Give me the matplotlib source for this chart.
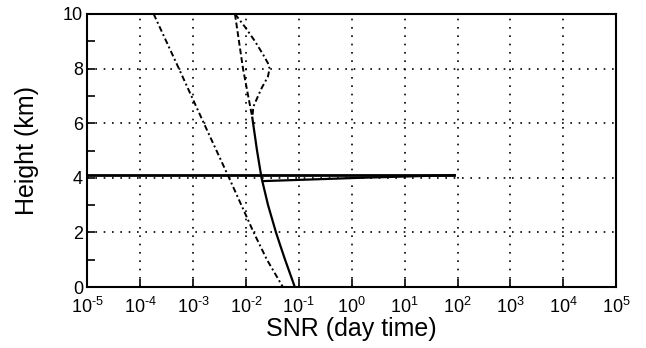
import matplotlib
matplotlib.use("Agg")
import matplotlib.pyplot as plt
from matplotlib.ticker import FixedLocator, FixedFormatter, NullLocator

# ---- data ----
# dash-dot profile (leftmost)
h_dashdot = [10, 8, 6, 4, 2, 1, 0]
snr_dashdot = [1.8e-4, 5.4e-4, 1.6e-3, 4.8e-3, 1.4e-2, 2.5e-2, 5.0e-2]

# solid profile (below ~6.2 km)
h_solid = [6.2, 5, 4, 3, 2, 1.5, 1, 0.5, 0]
snr_solid = [0.0132, 0.0162, 0.0197, 0.0262, 0.037, 0.045, 0.055, 0.068, 0.084]

# dashed upper continuation
h_dashed = [10, 8, 6.2]
snr_dashed = [0.0062, 0.0088, 0.0132]

# dash-dot bump around 8 km
h_bump = [10, 9.5, 9, 8.5, 8.2, 8, 7.7, 7.3, 7, 6.6, 6.2]
snr_bump = [0.0062, 0.0098, 0.0148, 0.0213, 0.026, 0.028, 0.026, 0.020,
            0.017, 0.0138, 0.0132]

# horizontal layer lines near 4 km
h_layer = [4.1, 4.1]
snr_layer = [1e-5, 87]
h_layer2 = [3.88, 4.0, 4.1]
snr_layer2 = [0.021, 1.4, 87]

exponents = list(range(-5, 6))
xticks = [10.0 ** k for k in exponents]
xticklabels = [r"$10^{\text{%s}}$" % (("-%d" % -k) if k < 0 else "%d" % k)
               for k in exponents]
yticks = [0, 2, 4, 6, 8, 10]

plt.rcParams["font.family"] = ["Liberation Sans", "DejaVu Sans"]
plt.rcParams["mathtext.fontset"] = "custom"
plt.rcParams["mathtext.rm"] = "Liberation Sans"
plt.rcParams["mathtext.it"] = "Liberation Sans"

fig = plt.figure(figsize=(6.46, 3.48), dpi=100)
ax = fig.add_axes([0.135, 0.175, 0.819, 0.785])

dashdot = (0, (3, 1.5, 1, 1.5))
ax.plot(snr_dashdot, h_dashdot, color="black", lw=1.4, ls=dashdot)
ax.plot(snr_solid, h_solid, color="black", lw=1.6)
ax.plot(snr_dashed, h_dashed, color="black", lw=1.4, ls=(0, (3, 1.5)))
ax.plot(snr_bump, h_bump, color="black", lw=1.4, ls=dashdot)
ax.plot(snr_layer, h_layer, color="black", lw=2.0)
ax.plot(snr_layer2, h_layer2, color="black", lw=1.6)

ax.set_xscale("log")
ax.set_xlim(1e-5, 1e5)
ax.set_ylim(0, 10)
ax.xaxis.set_major_locator(FixedLocator(xticks))
ax.xaxis.set_major_formatter(FixedFormatter(xticklabels))
ax.xaxis.set_minor_locator(NullLocator())
ax.set_yticks(yticks)
ax.set_yticks([1, 3, 5, 7, 9], minor=True)
ax.tick_params(which="both", direction="in", length=6, width=1.2, labelsize=13)
ax.tick_params(axis="x", pad=7)
ax.tick_params(axis="y", pad=3)
ax.grid(True, which="major", color="black", ls=(0, (1, 4)), lw=1.2)
for sp in ax.spines.values():
    sp.set_linewidth(1.5)

ax.set_xlabel("SNR (day time)", fontsize=18, labelpad=0)
ax.set_ylabel("Height (km)", fontsize=18, labelpad=17)

fig.savefig("out.png", dpi=100)
